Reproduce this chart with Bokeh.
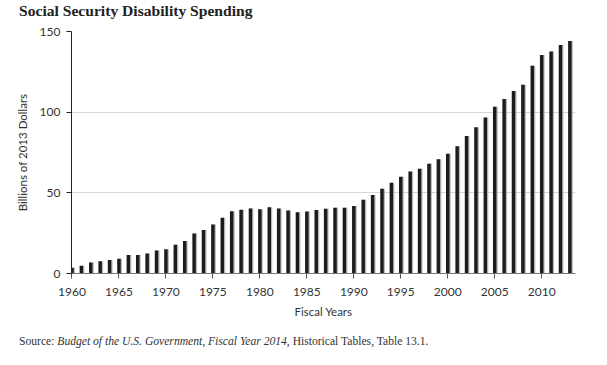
from bokeh.plotting import figure
from bokeh.models import Range1d, FixedTicker, ColumnDataSource, Div
from bokeh.layouts import column
from bokeh.embed import file_html
from bokeh.resources import INLINE

years = list(range(1960, 2014))
spending = [3.5, 4.8, 6.8, 7.6, 8.3, 9.1, 11.4, 11.4, 12.4, 14.3,
            15.1, 17.8, 20.2, 24.8, 26.9, 30.3, 34.5, 38.6, 39.5, 40.3,
            39.9, 41.1, 40.3, 39.0, 38.0, 38.4, 39.3, 40.1, 40.7, 40.7,
            41.9, 45.7, 48.6, 52.5, 56.2, 60.0, 63.2, 64.9, 68.0, 70.8,
            74.3, 78.9, 85.2, 90.6, 96.7, 103.3, 108.2, 113.1, 117.0, 128.7,
            135.5, 137.6, 141.7, 144.1]
x_ticks = [1960, 1965, 1970, 1975, 1980, 1985, 1990, 1995, 2000, 2005, 2010]
y_ticks = [0, 50, 100, 150]

title_text = "Social Security Disability Spending"
x_label = "Fiscal Years"
y_label = "Billions of 2013 Dollars"
src_parts = ["Source:", "Budget of the U.S. Government, Fiscal Year 2014",
             ", Historical Tables, Table 13.1."]

shadow_x = [y + 0.13 for y in years]
src = ColumnDataSource(dict(x=years, sx=shadow_x, top=spending))

p = figure(width=595, height=299, output_backend="svg", toolbar_location=None,
           x_range=Range1d(1959.95, 2013.6), y_range=Range1d(0, 150),
           min_border_left=71, min_border_right=20, min_border_top=8,
           min_border_bottom=49, margin=(0, 0, 0, 0))
p.outline_line_color = None
p.background_fill_color = "white"
p.border_fill_color = "white"

p.vbar(x="sx", top="top", width=0.38, bottom=0, source=src,
       fill_color="#9a9a9a", line_color=None, fill_alpha=0.7)
p.vbar(x="x", top="top", width=0.37, bottom=0, source=src,
       fill_color="#1c1c1c", line_color=None)

p.xgrid.grid_line_color = None
p.ygrid.grid_line_color = "#d6d6d6"
p.ygrid.grid_line_width = 1
p.yaxis.ticker = FixedTicker(ticks=y_ticks)
p.xaxis.ticker = FixedTicker(ticks=x_ticks)

for ax in (p.xaxis, p.yaxis):
    ax.major_label_text_font = "Lato"
    ax.major_label_text_font_size = "12px"
    ax.major_label_text_color = "#333333"
    ax.axis_label_text_font = "Lato"
    ax.axis_label_text_font_size = "11.5px"
    ax.axis_label_text_font_style = "normal"
    ax.axis_label_text_color = "#333333"
    ax.minor_tick_line_color = None
    ax.major_tick_in = 0
    ax.major_tick_out = 5

p.yaxis.axis_line_color = "#222222"
p.yaxis.major_tick_line_color = "#222222"
p.yaxis.axis_label = y_label
p.yaxis.major_label_standoff = 6
p.yaxis.axis_label_standoff = 8
p.xaxis.axis_line_color = "#777777"
p.xaxis.major_tick_line_color = "#555555"
p.xaxis.axis_label = x_label
p.xaxis.major_label_standoff = 9
p.xaxis.axis_label_standoff = 6

title_div = Div(
    text=('<div style="font-family:\'Liberation Serif\';font-weight:bold;'
          'font-size:15.6px;line-height:18px;color:#222;padding:2px 0 0 19px;'
          'white-space:nowrap;">' + title_text + '</div>'),
    width=595, height=23, margin=(0, 0, 0, 0))

source_div = Div(
    text=('<div style="font-family:\'Liberation Serif\';font-size:11.6px;'
          'line-height:14px;color:#333;padding:13px 0 0 19px;'
          'white-space:nowrap;">' + src_parts[0] + ' <i>' + src_parts[1] +
          '</i>' + src_parts[2] + '</div>'),
    width=595, height=30, margin=(0, 0, 0, 0))

layout = column(title_div, p, source_div, spacing=0, margin=(0, 0, 0, 0))

open("out.html", "w").write(file_html(layout, INLINE))
